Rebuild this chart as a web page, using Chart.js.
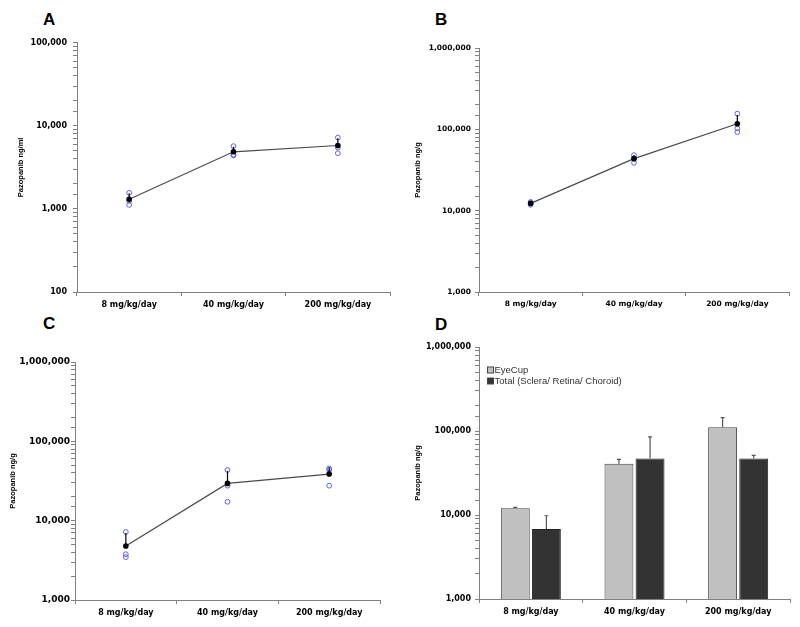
<!DOCTYPE html>
<html>
<head>
<meta charset="utf-8">
<script src="https://cdn.jsdelivr.net/npm/chart.js@4.4.1/dist/chart.umd.min.js"></script>
<style>
  body { margin: 0; width: 800px; height: 627px; overflow: hidden; background: #fff; position: relative; }
  canvas { position: absolute; }
  .tag { position: absolute; font: bold 17px "Liberation Sans", Arial, sans-serif; line-height: 17px; color: #000; }
</style>
</head>
<body>
<div class="tag" style="left:43px;top:11px">A</div>
<div class="tag" style="left:435px;top:11px">B</div>
<div class="tag" style="left:43px;top:315px">C</div>
<div class="tag" style="left:435px;top:316px">D</div>
<canvas id="chartA"></canvas>
<canvas id="chartB"></canvas>
<canvas id="chartC"></canvas>
<canvas id="chartD"></canvas>
<script>
const doses = ['8 mg/kg/day', '40 mg/kg/day', '200 mg/kg/day'];

// A - plasma, ng/ml (3 animals per dose, mean, top of SD bar)
const plasmaRaw = [[1560, 1250, 1120], [5700, 4400, 4500], [7230, 5470, 4690]];
const plasmaMean = [1310, 4870, 5800];
const plasmaSdTop = [1540, 5600, 7100];

// B - eye cup, ng/g
const eyeCupRaw = [[12800, 12300, 11800], [48200, 44000, 38800], [156000, 103000, 92600]];
const eyeCupMean = [12300, 43600, 117000];
const eyeCupSdTop = [12800, 48000, 150000];

// C - sclera/retina/choroid, ng/g
const tissueRaw = [[7200, 3780, 3470], [43500, 27600, 17300], [45600, 43500, 27600]];
const tissueMean = [4800, 29500, 38700];
const tissueSdTop = [7000, 42500, 47000];

// D - bars
const barEyeCup = [12000, 40800, 110700];
const barEyeCupTop = [12300, 45900, 144000];
const barTotal = [6800, 47200, 47200];
const barTotalTop = [9800, 85000, 51300];

Chart.defaults.font.family = '"DejaVu Sans", sans-serif';
Chart.defaults.animation = false;

// vertical error bar from the mean to the SD top
const errorBars = {
  id: 'errorBars',
  afterDatasetsDraw(chart) {
    const ctx = chart.ctx, y = chart.scales.y;
    chart.data.datasets.forEach((ds, i) => {
      if (!ds.errTop) return;
      const meta = chart.getDatasetMeta(i);
      ctx.save();
      ctx.strokeStyle = ds.errColor || '#000';
      ctx.lineWidth = 1.2;
      meta.data.forEach((el, j) => {
        const y0 = y.getPixelForValue(ds.data[j]);
        const y1 = y.getPixelForValue(ds.errTop[j]);
        ctx.beginPath();
        ctx.moveTo(el.x, y0);
        ctx.lineTo(el.x, y1);
        if (ds.errCap) {
          ctx.moveTo(el.x - ds.errCap, y1);
          ctx.lineTo(el.x + ds.errCap, y1);
        }
        ctx.stroke();
      });
      ctx.restore();
    });
  }
};

// small legend inside the plot (panel D)
const boxLegend = {
  id: 'boxLegend',
  afterDraw(chart) {
    if (!chart.options.plugins.boxLegend) return;
    const {ctx, chartArea} = chart;
    ctx.save();
    ctx.font = '9.5px "Liberation Sans", Arial, sans-serif';
    ctx.textBaseline = 'middle';
    chart.data.datasets.forEach((ds, i) => {
      const x = chartArea.left + 8.5, y = chartArea.top + 23 + i * 11;
      ctx.fillStyle = ds.backgroundColor;
      ctx.fillRect(x, y - 3, 6, 6);
      ctx.strokeStyle = '#444';
      ctx.lineWidth = 1;
      ctx.strokeRect(x, y - 3, 6, 6);
      ctx.fillStyle = '#333';
      ctx.fillText(ds.label, x + 7, y + 0.5);
    });
    ctx.restore();
  }
};

function logAxis(min, max, title, tickSize, tickPad, titlePad) {
  return {
    type: 'logarithmic', min: min, max: max,
    afterFit: s => { s.width = 70; },
    border: { color: '#808080' },
    grid: { drawOnChartArea: false, tickLength: 4, color: '#808080' },
    ticks: {
      autoSkip: false, padding: tickPad, color: '#000',
      font: { size: tickSize, weight: 'bold' },
      callback: v => {
        const e = Math.round(Math.log10(v));
        return Math.abs(v - Math.pow(10, e)) < 1e-6 * v ? v.toLocaleString('en-US') : '';
      }
    },
    title: {
      display: true, text: title, color: '#000',
      padding: { top: titlePad, bottom: 0 },
      font: { family: '"Liberation Sans", Arial, sans-serif', size: 7.5, weight: 'bold' }
    }
  };
}

function doseAxis(size) {
  return {
    type: 'category', offset: true,
    afterFit: s => { s.height = 30; },
    border: { color: '#808080' },
    grid: { offset: true, drawOnChartArea: false, tickLength: 4, color: '#808080' },
    ticks: { padding: 4, color: '#000', maxRotation: 0, font: { size: size, weight: 'bold' } }
  };
}

// canvas placed so the plot area sits where it is in the figure
function place(id, left, top, right, bottom) {
  const c = document.getElementById(id);
  c.width = 70 + (right - left) + 8;
  c.height = 10 + (bottom - top) + 30;
  c.style.left = (left - 70) + 'px';
  c.style.top = (top - 10) + 'px';
  return c;
}

function dotPanel(id, box, raw, mean, sdTop, yAxis, xSize) {
  const c = place(id, ...box);
  const rawSets = [0, 1, 2].map(r => ({
    label: 'animal ' + (r + 1),
    data: doses.map((d, k) => ({ x: d, y: raw[k][r] })),
    showLine: false,
    pointRadius: 2.4,
    pointBorderWidth: 1,
    pointBorderColor: '#5f5fe8',
    pointBackgroundColor: 'rgba(255,255,255,0)'
  }));
  new Chart(c, {
    type: 'line',
    data: {
      labels: doses,
      datasets: [{
        label: 'mean',
        data: mean,
        errTop: sdTop,
        borderColor: '#4a4a4a',
        borderWidth: 1.2,
        pointRadius: 2.2,
        pointBackgroundColor: '#000',
        pointBorderColor: '#000',
        tension: 0
      }, ...rawSets]
    },
    options: {
      responsive: false,
      layout: { padding: { top: 10, right: 8, left: 0, bottom: 0 } },
      plugins: { legend: { display: false }, tooltip: { enabled: false } },
      scales: { x: doseAxis(xSize), y: yAxis }
    },
    plugins: [errorBars]
  });
}

dotPanel('chartA', [77, 42, 390, 292], plasmaRaw, plasmaMean, plasmaSdTop,
  logAxis(100, 100000, 'Pazopanib ng/ml', 8, 6, 9), 8);
dotPanel('chartB', [479, 48, 789, 292], eyeCupRaw, eyeCupMean, eyeCupSdTop,
  logAxis(1000, 1000000, 'Pazopanib ng/g', 7.5, 4, 4), 7.5);
dotPanel('chartC', [75, 362, 380, 600], tissueRaw, tissueMean, tissueSdTop,
  logAxis(1000, 1000000, 'Pazopanib ng/g', 9, 1, 3), 8);

const cD = place('chartD', 479, 347, 790, 599);
new Chart(cD, {
  type: 'bar',
  data: {
    labels: doses,
    datasets: [{
      label: 'EyeCup',
      data: barEyeCup,
      errTop: barEyeCupTop,
      errColor: '#555',
      errCap: 2,
      backgroundColor: '#c0c0c0',
      borderColor: '#444',
      borderWidth: 1,
      categoryPercentage: 0.6,
      barPercentage: 0.93
    }, {
      label: 'Total (Sclera/ Retina/ Choroid)',
      data: barTotal,
      errTop: barTotalTop,
      errColor: '#555',
      errCap: 2,
      backgroundColor: '#333',
      borderColor: '#222',
      borderWidth: 1,
      categoryPercentage: 0.6,
      barPercentage: 0.93
    }]
  },
  options: {
    responsive: false,
    layout: { padding: { top: 10, right: 8, left: 0, bottom: 0 } },
    plugins: { legend: { display: false }, tooltip: { enabled: false }, boxLegend: true },
    scales: { x: doseAxis(8), y: logAxis(1000, 1000000, 'Pazopanib ng/g', 8, 4, 4) }
  },
  plugins: [errorBars, boxLegend]
});
</script>
</body>
</html>
